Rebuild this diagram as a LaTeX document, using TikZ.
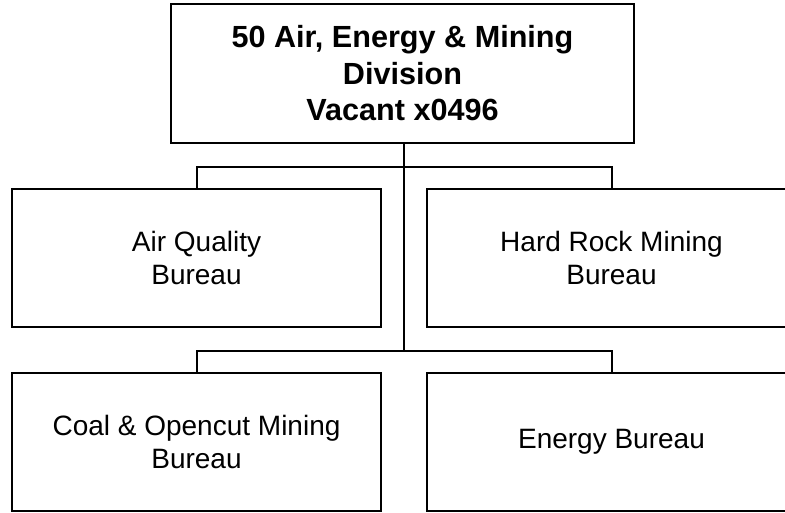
\documentclass[tikz,border=0pt]{standalone}
\usepackage{fontspec}
\setmainfont{Liberation Sans}
\begin{document}
\begin{tikzpicture}[x=1pt,y=-1pt,
  orgbox/.style={draw=black,line width=2pt,rectangle,inner sep=0pt,align=center},
  headbox/.style={orgbox,minimum width=463pt,minimum height=139pt,font=\fontsize{30.6}{36.5}\selectfont\bfseries},
  unitbox/.style={orgbox,minimum width=369pt,minimum height=138pt,font=\fontsize{28}{33}\selectfont},
  link/.style={draw=black,line width=2pt}]
\useasboundingbox (0,0) rectangle (785,512);
\clip (0,0) rectangle (785,512);
\node[headbox] (top) at (402.5,73.5) {50 Air, Energy \& Mining\\Division\\Vacant x0496};
\node[unitbox] (aq) at (196.5,258) {Air Quality\\Bureau};
\node[unitbox] (hr) at (611.5,258) {Hard Rock Mining\\Bureau};
\node[unitbox] (co) at (196.5,442) {Coal \& Opencut Mining\\Bureau};
\node[unitbox] (en) at (611.5,442) {Energy Bureau};
\coordinate (j1) at (404,167);
\coordinate (j2) at (404,351);
\draw[link] (top.south -| j1) -- (j2);
\draw[link] (aq.north) |- (j1) -| (hr.north);
\draw[link] (co.north) |- (j2) -| (en.north);
\end{tikzpicture}
\end{document}
